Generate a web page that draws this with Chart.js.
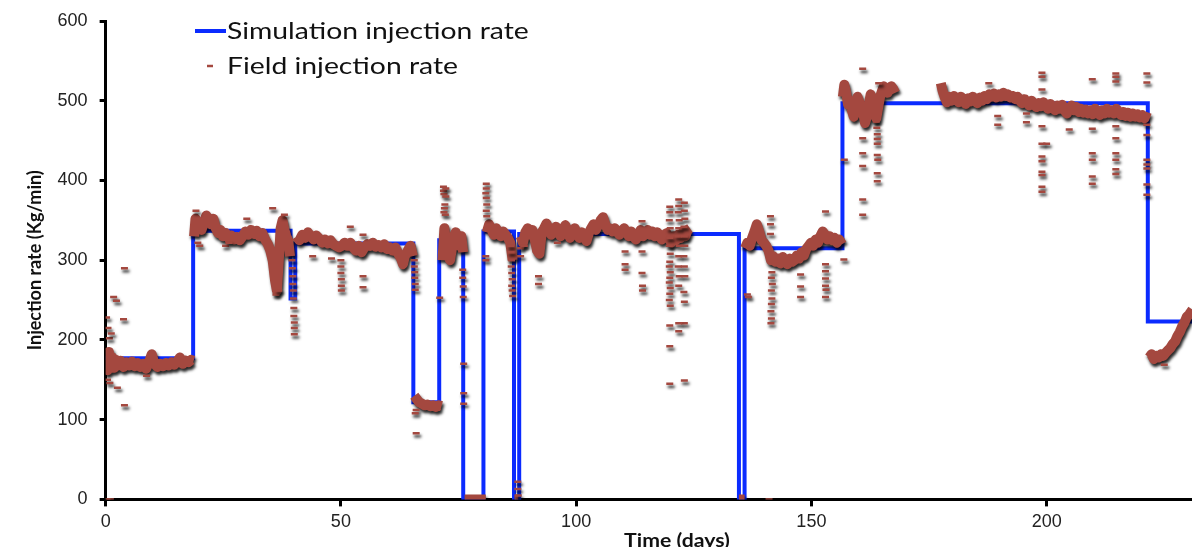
<!DOCTYPE html>
<html>
<head>
<meta charset="utf-8">
<script src="https://cdn.jsdelivr.net/npm/chart.js@4.4.1/dist/chart.umd.min.js"></script>
<style>
  html, body { margin: 0; padding: 0; background: #fff; overflow: hidden; }
  #wrap { position: relative; width: 1199px; height: 547px; }
  #rateChart { display: block; }
</style>
</head>
<body>
<div id="wrap"><canvas id="rateChart"></canvas></div>
<script>
// ===== INJECTION RATE: SIMULATION vs FIELD =====

// simulation schedule (each value holds until the next day)
var simDays = [0, 18.6, 39.3, 40.3, 65.4, 70.9, 76.0, 80.3, 86.8, 87.9, 134.6, 135.8, 156.6, 221.5, 231];
var simRate = [177, 337, 252, 321, 122, 325, 0, 336, 0, 333, 0, 315, 497, 223, 223];

// field record, main trace (null = gap in the record)
var fieldDays = [
  0.1, 0.4, 0.7, 1.0, 1.4, 1.8, 2.2, 2.7, 3.2, 3.8,
  4.4, 5.0, 5.6, 6.2, 6.8, 7.4, 8.0, 8.6, 9.2, 9.8,
  10.4, 11.0, 11.6, 12.2, 12.8, 13.4, 14.0, 14.6, 15.2, 15.8,
  16.4, 17.0, 17.6, 18.2, 18.7, 18.75,
  18.8, 19.1, 19.5, 19.9, 20.4, 20.9, 21.4, 21.9, 22.4, 22.9,
  23.4, 23.9, 24.4, 24.9, 25.5, 26.1, 26.7, 27.3, 27.9, 28.5,
  29.1, 29.7, 30.3, 30.9, 31.5, 32.1, 32.7, 33.3, 33.9, 34.5,
  35.0, 35.5, 36.0, 36.4, 36.8, 37.2, 37.6, 38.0, 38.4, 38.8,
  39.2, 39.9,
  40.6, 41.2, 41.8, 42.4, 43.0, 43.6, 44.2, 44.8, 45.4, 46.0,
  46.6, 47.2, 47.8, 48.4, 49.0, 49.6, 50.2, 50.8, 51.4, 52.0,
  52.6, 53.2, 53.8, 54.4, 55.0, 55.6, 56.2, 56.8, 57.4, 58.0,
  58.6, 59.2, 59.8, 60.4, 61.0, 61.6, 62.2, 62.8, 63.2, 63.6,
  64.2, 64.8, 65.3, 65.45,
  65.6, 66.1, 66.6, 67.2, 67.8, 68.4, 69.0, 69.6, 70.2, 70.8,
  71.4, 71.5,
  71.6, 72.0, 72.4, 72.8, 73.2, 73.6, 74.0, 74.4, 74.8, 75.2,
  75.6, 76.0, 76.15,
  76.3, 77.0, 78.0, 79.0, 80.0, 80.8, 80.9,
  81.0, 81.5, 82.0, 82.5, 83.0, 83.5, 84.0, 84.5, 85.0, 85.5,
  86.0, 86.5, 86.7,
  86.9, 87.7, 87.9,
  88.2, 88.7, 89.2, 89.7, 90.2, 90.7, 91.2, 91.7, 92.2, 92.7,
  93.2, 93.7, 94.2, 94.7, 95.2, 95.7, 96.2, 96.7, 97.2, 97.7,
  98.2, 98.7, 99.2, 99.7, 100.2, 100.7, 101.2, 101.7, 102.2, 102.7,
  103.2, 103.7, 104.2, 104.7, 105.2, 105.7, 106.2, 106.7, 107.2, 107.7,
  108.2, 108.7, 109.2, 109.7, 110.2, 110.7, 111.2, 111.7, 112.2, 112.7,
  113.2, 113.7, 114.2, 114.7, 115.2, 115.7, 116.2, 116.7, 117.2, 117.7,
  118.2, 118.7, 119.2, 119.7, 120.2, 120.7, 121.2, 121.7, 122.2, 122.7,
  123.2, 123.7, 124.2, 124.4,
  134.6, 135.8, 135.85,
  135.9, 136.4, 136.9, 137.4, 137.9, 138.4, 138.9, 139.4, 139.9, 140.4,
  140.9, 141.4, 141.9, 142.4, 142.9, 143.4, 143.9, 144.4, 144.9, 145.4,
  145.9, 146.4, 146.9, 147.4, 147.9, 148.4, 148.9, 149.4, 149.9, 150.4,
  150.9, 151.4, 151.9, 152.4, 152.9, 153.4, 153.9, 154.4, 154.9, 155.4,
  155.9, 156.5, 156.6,
  156.7, 157.0, 157.4, 157.8, 158.2, 158.6, 159.0, 159.4, 159.8, 160.2,
  160.6, 161.0, 161.4, 161.8, 162.2, 162.6, 163.0, 163.4, 163.8, 164.2,
  164.6, 165.0, 165.4, 165.8, 166.2, 166.6, 167.0, 167.4, 167.8, 168.0,
  177.5, 177.9, 178.3, 178.8, 179.3, 179.8, 180.3, 180.8, 181.3, 181.8,
  182.3, 182.8, 183.3, 183.8, 184.3, 184.8, 185.3, 185.8, 186.3, 186.8,
  187.3, 187.8, 188.3, 188.8, 189.3, 189.8, 190.3, 190.8, 191.3, 191.8,
  192.3, 192.8, 193.3, 193.8, 194.3, 194.8, 195.3, 195.8, 196.3, 196.8,
  197.3, 197.8, 198.3, 198.8, 199.3, 199.8, 200.3, 200.8, 201.3, 201.8,
  202.3, 202.8, 203.3, 203.8, 204.3, 204.8, 205.3, 205.8, 206.3, 206.8,
  207.3, 207.8, 208.3, 208.8, 209.3, 209.8, 210.3, 210.8, 211.3, 211.8,
  212.3, 212.8, 213.3, 213.8, 214.3, 214.8, 215.3, 215.8, 216.3, 216.8,
  217.3, 217.8, 218.3, 218.8, 219.3, 219.8, 220.3, 220.8, 221.3, 221.5,
  221.8, 222.3, 222.8, 223.3, 223.8, 224.3, 224.8, 225.3, 225.8, 226.3,
  226.8, 227.3, 227.8, 228.3, 228.8, 229.3, 229.8, 230.3, 231.0
];
var fieldRate = [
  180, 162, 185, 168, 178, 165, 175, 168, 174, 166,
  172, 168, 173, 167, 171, 166, 170, 164, 172, 182,
  170, 166, 170, 167, 171, 168, 172, 169, 173, 178,
  170, 174, 172, 175, 174, null,
  330, 352, 340, 345, 338, 348, 356, 350, 345, 352,
  340, 334, 338, 330, 334, 328, 331, 326, 329, 325,
  330, 336, 332, 338, 333, 337, 330, 334, 326, 320,
  312, 300, 275, 262, 300, 340, 350, 338, 330, 325,
  305, null,
  330, 325, 332, 328, 335, 330, 326, 331, 327, 322,
  326, 321, 325, 320, 318, 316, 318, 322, 318, 322,
  316, 312, 318, 310, 316, 320, 318, 322, 317, 319,
  316, 320, 314, 316, 312, 316, 308, 302, 295, 305,
  312, 318, 305, null,
  130, 126, 122, 120, 118, 119, 117, 118, 116, 118,
  117, null,
  300, 340, 320, 305, 300, 315, 330, 335, 325, 318,
  330, 310, null,
  0, 0, 0, 0, 0, 0, null,
  335, 345, 338, 332, 340, 335, 330, 336, 332, 328,
  322, 300, null,
  0, 0, null,
  330, 322, 335, 340, 332, 338, 326, 312, 308, 335,
  340, 346, 338, 332, 336, 342, 335, 330, 338, 344,
  336, 328, 334, 340, 333, 328, 335, 330, 324, 334,
  340, 345, 338, 344, 350, 354, 345, 338, 340, 336,
  340, 336, 332, 336, 340, 335, 330, 336, 330, 326,
  332, 338, 330, 334, 338, 332, 336, 330, 335, 332,
  326, 330, 334, 328, 322, 330, 325, 332, 328, 335,
  330, 338, 340, null,
  0, 0, null,
  315, 322, 318, 328, 336, 345, 336, 325, 322, 318,
  312, 300, 305, 298, 302, 296, 304, 298, 295, 302,
  298, 300, 306, 302, 310, 306, 314, 318, 322, 318,
  326, 322, 330, 336, 332, 326, 330, 325, 328, 322,
  326, 320, null,
  505, 520, 510, 495, 500, 488, 480, 492, 505, 498,
  490, 485, 472, 480, 495, 508, 500, 490, 478, 492,
  505, 512, 518, 515, 510, 514, 518, 515, 510, null,
  522, 512, 505, 498, 505, 500, 506, 502, 498, 505,
  500, 496, 503, 499, 505, 500, 497, 504, 500, 506,
  502, 508, 505, 509, 504, 508, 505, 510, 506, 508,
  504, 506, 502, 505, 500, 497, 502, 498, 494, 500,
  496, 492, 497, 493, 498, 494, 490, 496, 492, 488,
  494, 490, 495, 488, 484, 490, 494, 488, 492, 486,
  490, 485, 489, 484, 488, 483, 490, 486, 482, 488,
  484, 490, 485, 488, 484, 490, 486, 482, 486, 481,
  485, 480, 484, 480, 483, 479, 482, 478, 486, null,
  178, 182, 176, 180, 178, 182, 180, 184, 187, 190,
  195, 198, 205, 210, 217, 222, 229, 232, 238
];

// field record, scattered readings away from the main trace
var spotDays = [
  0.2, 0.5, 0.8, 1.2, 0.4, 0.9, 1.7, 2.3, 3.8, 4.0,
  4.0, 8.7, 2.5, 0.3, 1.0, 19.2, 19.6, 20.0, 25.5, 26.2,
  30.0, 35.5, 36.2, 36.8, 38.0, 39.6, 39.7, 39.8, 39.8, 39.9,
  39.9, 40.0, 40.0, 40.1, 40.1, 40.1, 50.0, 50.0, 50.0, 50.1,
  50.1, 50.1, 48.0, 52.0, 54.7, 54.7, 54.7, 44.0, 65.6, 65.6,
  65.7, 65.7, 65.8, 65.8, 66.0, 66.0, 65.8, 71.8, 71.8, 71.9,
  72.3, 72.3, 72.1, 72.0, 71.9, 72.2, 71.0, 75.9, 75.9, 76.0,
  76.0, 76.1, 76.1, 76.1, 80.9, 80.9, 80.8, 80.9, 81.0, 80.9,
  81.0, 80.8, 80.8, 86.1, 86.2, 86.3, 86.2, 86.3, 86.4, 86.3,
  86.4, 86.5, 87.6, 87.6, 87.7, 88.2, 88.2, 92.0, 92.0, 110.4,
  110.4, 110.4, 114.0, 114.0, 114.0, 114.1, 114.1, 89.0, 96.0, 119.9,
  119.9, 119.8, 120.0, 119.9, 119.8, 120.0, 119.9, 119.8, 120.0, 119.9,
  119.8, 120.0, 119.9, 119.8, 120.0, 119.9, 119.9, 119.9, 121.8, 121.8,
  121.7, 121.9, 121.8, 121.7, 121.9, 121.8, 121.7, 121.9, 121.8, 123.0,
  123.0, 123.1, 122.9, 123.0, 123.1, 122.9, 123.0, 123.1, 122.9, 123.0,
  123.0, 136.4, 136.6, 141.3, 141.3, 141.3, 141.6, 141.5, 141.7, 141.5,
  141.6, 141.5, 141.4, 141.5, 141.4, 141.0, 147.7, 147.7, 147.7, 153.0,
  153.0, 153.0, 153.0, 153.1, 153.0, 156.9, 153.0, 160.9, 160.9, 160.9,
  160.9, 160.9, 160.9, 163.8, 163.9, 164.0, 164.0, 164.0, 164.0, 164.1,
  164.0, 164.0, 157.0, 164.3, 189.6, 189.6, 187.7, 199.0, 199.0, 199.0,
  199.0, 199.0, 199.0, 199.0, 199.0, 199.0, 199.0, 199.0, 200.0, 204.8,
  195.7, 195.7, 209.7, 209.7, 209.7, 209.7, 209.7, 209.7, 214.7, 214.7,
  214.7, 214.7, 214.7, 214.7, 214.7, 214.7, 214.7, 221.3, 221.3, 221.3,
  221.3, 221.3, 221.3, 221.3, 221.3, 221.3, 225.0, 123.0, 121.8, 121.8
];
var spotRate = [
  228, 215, 202, 208, 150, 146, 254, 249, 226, 290,
  118, 155, 140, 0, 0, 362, 322, 318, 318, 322,
  352, 365, 257, 262, 357, 300, 290, 280, 270, 262,
  252, 240, 230, 222, 215, 207, 300, 292, 284, 276,
  268, 262, 302, 342, 332, 280, 266, 305, 300, 292,
  285, 278, 270, 263, 112, 83, 108, 392, 387, 383,
  390, 380, 370, 365, 360, 357, 253, 288, 278, 267,
  254, 170, 133, 120, 396, 390, 384, 378, 370, 362,
  355, 305, 300, 318, 310, 300, 292, 284, 276, 268,
  262, 255, 22, 13, 5, 315, 305, 280, 270, 311,
  295, 288, 349, 311, 284, 268, 262, 318, 322, 367,
  360, 350, 340, 328, 318, 308, 298, 292, 285, 278,
  272, 265, 258, 250, 243, 218, 192, 145, 376, 368,
  360, 350, 340, 330, 318, 305, 292, 280, 268, 372,
  362, 352, 342, 330, 318, 305, 292, 280, 260, 248,
  221, 257, 254, 355, 345, 333, 285, 278, 270, 262,
  252, 245, 236, 227, 221, 0, 282, 267, 254, 361,
  286, 277, 268, 263, 254, 301, 295, 540, 453, 434,
  418, 376, 357, 474, 466, 458, 452, 446, 432, 426,
  409, 399, 426, 522, 481, 470, 522, 535, 530, 514,
  468, 446, 430, 424, 411, 407, 392, 386, 446, 464,
  484, 473, 527, 465, 434, 426, 405, 396, 534, 530,
  524, 468, 453, 434, 426, 414, 408, 534, 523, 470,
  457, 426, 420, 415, 395, 382, 169, 149, 221, 211
];

var xMaxDay = 231;
var yMaxRate = 600;

function toPoints(days, rates) {
  var pts = [];
  for (var i = 0; i < days.length; i++) pts.push({ x: days[i], y: rates[i] });
  return pts;
}

var BLUE = '#0b2bff';
var BROWN = '#a4483f';
var CALIBRI = 'Lato, "Open Sans", sans-serif';

// black drop shadow under the field record, as in the source figure
var shadowPlugin = {
  id: 'fieldShadow',
  beforeDatasetDraw: function(chart, args) {
    if (!chart.data.datasets[args.index].shadow) return;
    var ctx = chart.ctx;
    ctx.save();
    ctx.shadowColor = 'rgba(0,0,0,0.85)';
    ctx.shadowBlur = 3;
    ctx.shadowOffsetX = 1.5;
    ctx.shadowOffsetY = 3;
  },
  afterDatasetDraw: function(chart, args) {
    if (!chart.data.datasets[args.index].shadow) return;
    chart.ctx.restore();
  }
};

// text drawn slightly stretched sideways, like the source figure
function wideText(ctx, txt, x, y, sx) {
  ctx.save();
  ctx.translate(x, y);
  ctx.scale(sx, 1);
  ctx.fillText(txt, 0, 0);
  ctx.restore();
}

// legend inside the plot area + x axis title
var notesPlugin = {
  id: 'notes',
  afterDraw: function(chart) {
    var ctx = chart.ctx;
    ctx.save();
    ctx.fillStyle = '#111';
    ctx.textBaseline = 'middle';
    ctx.font = '24px ' + CALIBRI;
    ctx.strokeStyle = BLUE; ctx.lineWidth = 4;
    ctx.beginPath(); ctx.moveTo(195, 31); ctx.lineTo(226, 31); ctx.stroke();
    wideText(ctx, 'Simulation injection rate', 227, 31, 1.18);
    ctx.strokeStyle = BROWN; ctx.lineWidth = 2.5;
    ctx.beginPath(); ctx.moveTo(207, 66); ctx.lineTo(213, 66); ctx.stroke();
    wideText(ctx, 'Field injection rate', 227, 66, 1.18);
    ctx.font = 'bold 18px ' + CALIBRI;
    ctx.textAlign = 'center';
    ctx.textBaseline = 'alphabetic';
    wideText(ctx, 'Time (days)', 677, 547, 1.18);
    ctx.restore();
  }
};

new Chart(document.getElementById('rateChart').getContext('2d'), {
  type: 'line',
  data: { datasets: [
    { label: 'Field injection rate', data: toPoints(spotDays, spotRate), showLine: false, shadow: true,
      pointStyle: 'line', pointRadius: 3.5, pointBorderWidth: 2.5, pointBorderColor: BROWN, pointBackgroundColor: BROWN, order: 0 },
    { label: 'Field injection rate (trace)', data: toPoints(fieldDays, fieldRate), shadow: true, spanGaps: false,
      borderColor: BROWN, borderWidth: 10, borderJoinStyle: 'round', borderCapStyle: 'butt', pointRadius: 0, tension: 0, order: 1 },
    { label: 'Simulation injection rate', data: toPoints(simDays, simRate), stepped: true,
      borderColor: BLUE, borderWidth: 4, pointRadius: 0, fill: false, order: 2 }
  ]},
  options: {
    responsive: true, maintainAspectRatio: false, animation: false,
    layout: { padding: { left: 24, top: 9, right: 0, bottom: 9 } },
    plugins: { legend: { display: false }, tooltip: { enabled: false } },
    scales: {
      x: { type: 'linear', min: 0, max: xMaxDay,
        border: { color: '#000', width: 3 },
        grid: { drawOnChartArea: false, drawTicks: true, tickLength: 7, tickWidth: 3, tickColor: '#000' },
        ticks: { stepSize: 50, includeBounds: false, padding: 5, color: '#222', font: { family: "'Liberation Sans', Arial, sans-serif", size: 18 } } },
      y: { min: 0, max: yMaxRate,
        border: { color: '#000', width: 3 },
        grid: { drawOnChartArea: false, drawTicks: true, tickLength: 6, tickWidth: 3, tickColor: '#000' },
        ticks: { stepSize: 100, padding: 12, color: '#222', font: { family: "'Liberation Sans', Arial, sans-serif", size: 18, lineHeight: 1.0 } },
        title: { display: true, text: 'Injection rate (Kg/min)', color: '#111', padding: 0,
          font: { family: CALIBRI, size: 18, weight: 'bold' } } }
    }
  },
  plugins: [shadowPlugin, notesPlugin]
});
</script>
</body>
</html>
